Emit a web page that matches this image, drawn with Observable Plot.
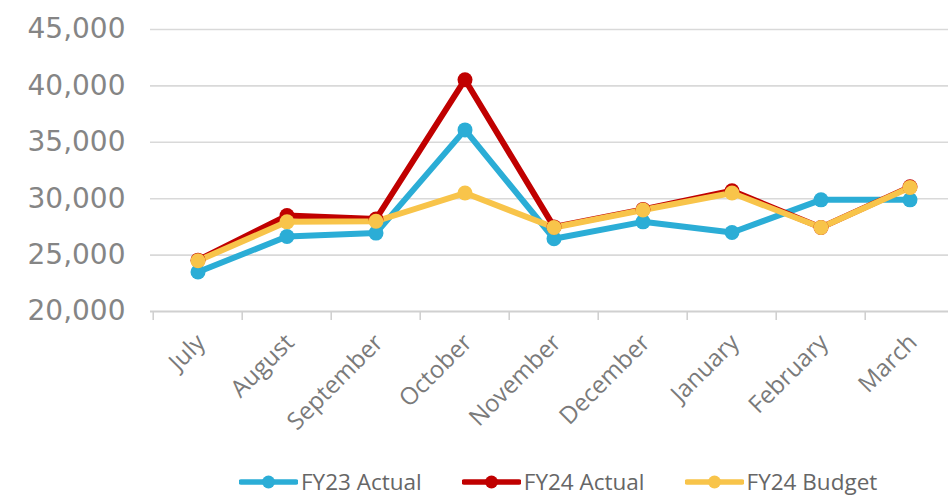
<!DOCTYPE html>
<html><head><meta charset="utf-8">
<script src="https://cdn.jsdelivr.net/npm/d3@7"></script>
<script src="https://cdn.jsdelivr.net/npm/@observablehq/plot@0.6"></script>
<style>
body{margin:0;background:#fff;position:relative;width:948px;height:497px;}
#legend{position:absolute;left:239px;top:466px;display:flex;align-items:center;font-family:"Open Sans",sans-serif;font-size:22.5px;color:#666;}
.item{display:flex;align-items:center;margin-right:40px;}
.item svg{margin-right:3px;}
</style></head>
<body>
<div id="chart"></div>
<div id="legend"></div>
<script>
const months = ["July","August","September","October","November","December","January","February","March"];
const seriesNames = ["FY23 Actual","FY24 Actual","FY24 Budget"];
const colors = ["#2badd6","#c00000","#f8c44a"];
const fy23Actual = [23500,26650,26950,36100,26450,27950,27000,29900,29900];
const fy24Actual = [24550,28500,28200,40550,27500,29050,30700,27450,31050];
const fy24Budget = [24500,27950,28000,30500,27450,29000,30500,27450,31000];
const yTicks = [20000,25000,30000,35000,40000,45000];

const rows = [];
[fy23Actual, fy24Actual, fy24Budget].forEach((vals, si) => {
  vals.forEach((v, i) => rows.push({series: seriesNames[si], month: months[i], value: v}));
});

const bw = (956 - 150) / months.length;

const plot = Plot.plot({
  width: 948,
  height: 462,
  marginLeft: 150,
  marginRight: 0,
  marginTop: 29,
  marginBottom: 151,
  style: {background: "#fff", overflow: "visible"},
  x: {type: "band", domain: months, range: [150, 956], padding: 0},
  y: {type: "linear", domain: [20000, 45000], range: [311, 29]},
  color: {domain: seriesNames, range: colors},
  marks: [
    Plot.ruleY(yTicks.slice(1), {stroke: "#d9d9d9", strokeWidth: 1.6}),
    Plot.ruleY([yTicks[0]], {stroke: "#d0d0d0", strokeWidth: 1.8}),
    Plot.ruleX(months, {x: d => d, y1: 20000, y2: 19200, dx: -bw/2, stroke: "#d0d0d0", strokeWidth: 1.6}),
    Plot.axisY(yTicks, {tickSize: 0, tickPadding: 25, tickFormat: d3.format(","), fontSize: 28, fill: "#858585", fontFamily: "DejaVu Sans", label: null, style: {letterSpacing: "2.2px"}}),
    Plot.axisX({tickSize: 0, tickPadding: 27, tickRotate: -45, fontSize: 24, fill: "#7a7a7a", fontFamily: "Open Sans, sans-serif", label: null, dx: 3}),
    Plot.line(rows, {x: "month", y: "value", z: "series", stroke: "series", strokeWidth: 6, strokeLinejoin: "round", strokeLinecap: "round"}),
    Plot.dot(rows, {x: "month", y: "value", fill: "series", r: 7.5, stroke: null})
  ]
});
document.getElementById("chart").appendChild(plot);

// legend
const lg = d3.select("#legend");
seriesNames.forEach((name, i) => {
  const it = lg.append("div").attr("class", "item");
  const s = it.append("svg").attr("width", 59).attr("height", 20);
  s.append("line").attr("x1", 2).attr("x2", 57).attr("y1", 10).attr("y2", 10).attr("stroke", colors[i]).attr("stroke-width", 5.5).attr("stroke-linecap","round");
  s.append("circle").attr("cx", 29.5).attr("cy", 10).attr("r", 6.5).attr("fill", colors[i]);
  it.append("span").text(name);
});
</script>
</body></html>
